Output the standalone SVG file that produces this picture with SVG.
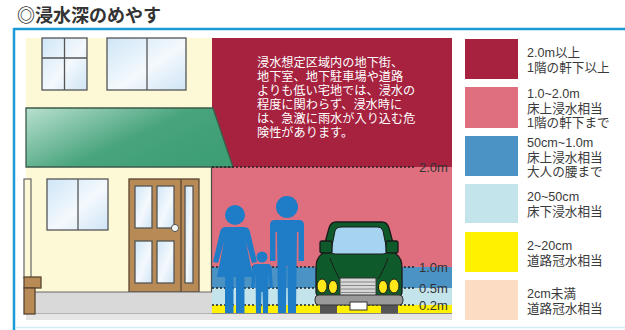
<svg xmlns="http://www.w3.org/2000/svg" width="625" height="330" viewBox="0 0 625 330">
  <defs>
    <style>
      .title { font-family: "Noto Sans CJK JP", "Noto Sans", sans-serif; font-weight: bold; font-size: 18px; fill: #333; }
      .note { font-family: "Liberation Sans", "Noto Sans CJK JP", sans-serif; font-size: 12.2px; fill: #fff; }
      .legend { font-family: "Liberation Sans", "Noto Sans CJK JP", sans-serif; font-size: 12.6px; fill: #3a3a3a; }
      .depth { font-family: "Liberation Sans", Arial, sans-serif; font-size: 13px; fill: #333; }
      .dots { stroke: #222; stroke-width: 1.6; stroke-dasharray: 2 2; fill: none; }
      .pane { fill: url(#glass); stroke: #555; stroke-width: 1.3; }
      .frame { stroke: #555; stroke-width: 1.3; fill: none; }
      .wood { fill: #b88a55; stroke: #5a4630; stroke-width: 1.3; }
      .person { fill: #1f7cc7; }
      .car { fill: #0f5a2b; stroke: #1a1a1a; stroke-width: 1.3; }
      .lamp { fill: #ffe81a; stroke: #1a1a1a; stroke-width: 1; }
    </style>
    <linearGradient id="glass" x1="0" y1="0" x2="1" y2="1">
      <stop offset="0" stop-color="#cfe6f7"/>
      <stop offset="0.55" stop-color="#f4f9fd"/>
      <stop offset="1" stop-color="#cfe4f5"/>
    </linearGradient>
    <linearGradient id="awning" x1="0" y1="0" x2="1" y2="0.6">
      <stop offset="0" stop-color="#b9e0d0"/>
      <stop offset="0.6" stop-color="#48a47c"/>
      <stop offset="1" stop-color="#3e9e74"/>
    </linearGradient>
  </defs>

  <rect width="625" height="330" fill="#fff"/>

  <!-- heading -->
  <text class="title" x="17" y="22">◎浸水深のめやす</text>

  <!-- outer frame -->
  <line x1="14" y1="29" x2="625" y2="29" stroke="#1b9ad8" stroke-width="2.5"/>
  <line x1="14" y1="28" x2="14" y2="330" stroke="#1b9ad8" stroke-width="2.5"/>
  <line x1="15" y1="327.5" x2="625" y2="327.5" stroke="#d6eff7" stroke-width="1.5"/>

  <!-- water depth bands -->
  <g id="depth-bands">
    <rect x="212" y="38" width="240" height="129" fill="#a6223f"/>
    <rect x="212" y="167" width="240" height="100" fill="#df6f7f"/>
    <rect x="212" y="267" width="240" height="21" fill="#4b92c5"/>
    <rect x="212" y="288" width="240" height="17" fill="#c4e4ec"/>
    <rect x="212" y="305" width="240" height="8.5" fill="#fff100"/>
    <rect x="26" y="313.5" width="426" height="6.5" fill="#e6e6e6"/>
    <line x1="26" y1="313.5" x2="452" y2="313.5" stroke="#8a8a8a" stroke-width="1"/>
  </g>

  <!-- house -->
  <g id="house">
    <rect x="26" y="38" width="186" height="254" fill="#fdf8d6"/>
    <!-- upper windows -->
    <rect class="pane" x="42" y="38" width="45" height="52"/>
    <line class="frame" x1="64.5" y1="38" x2="64.5" y2="90"/>
    <line class="frame" x1="42" y1="58" x2="87" y2="58"/>
    <rect class="pane" x="107" y="38" width="79" height="52"/>
    <line class="frame" x1="147" y1="38" x2="147" y2="90"/>
    <!-- awning -->
    <polygon points="26,108 213,108 233,167 26,167" fill="url(#awning)" stroke="#3d5a4a" stroke-width="1.3"/>
    <!-- wall edge -->
    <line x1="211.5" y1="167" x2="211.5" y2="292" stroke="#4a4a4a" stroke-width="1.2"/>
    <!-- lower window -->
    <rect class="pane" x="47" y="179" width="61" height="51"/>
    <line class="frame" x1="78" y1="179" x2="78" y2="230"/>
    <!-- window edge at the left -->
    <rect x="24" y="179" width="7" height="99" fill="#fdf8d6" stroke="#666" stroke-width="1.2"/>
    <!-- door -->
    <rect class="wood" x="129" y="179" width="70" height="113"/>
    <line x1="181" y1="179" x2="181" y2="292" stroke="#5a4630" stroke-width="1.3"/>
    <rect class="pane" x="135" y="186" width="17" height="42" stroke="#5a4630"/>
    <rect class="pane" x="157" y="186" width="17" height="42" stroke="#5a4630"/>
    <rect class="pane" x="135" y="241" width="17" height="42" stroke="#5a4630"/>
    <rect class="pane" x="157" y="241" width="17" height="42" stroke="#5a4630"/>
    <rect class="pane" x="185" y="186" width="8" height="97" stroke="#5a4630"/>
    <circle cx="175" cy="228" r="3.6" fill="#f4f4f4" stroke="#555" stroke-width="1"/>
    <!-- step / ground -->
    <rect x="26" y="292" width="186" height="21.5" fill="#d9d9d9"/>
    <line x1="26" y1="292" x2="212" y2="292" stroke="#666" stroke-width="1.2"/>
    <!-- bench -->
    <rect class="wood" x="24" y="277" width="17" height="11"/>
    <rect class="wood" x="24" y="288" width="11" height="26"/>
  </g>

  <!-- level lines -->
  <g id="levels">
    <line class="dots" x1="212" y1="167" x2="416" y2="167"/>
    <line class="dots" x1="212" y1="267" x2="416" y2="267"/>
    <line class="dots" x1="212" y1="288" x2="416" y2="288"/>
    <line class="dots" x1="212" y1="305" x2="416" y2="305"/>
    <text class="depth" x="419" y="172">2.0m</text>
    <text class="depth" x="419" y="272">1.0m</text>
    <text class="depth" x="419" y="293">0.5m</text>
    <text class="depth" x="419" y="310">0.2m</text>
  </g>

  <!-- caution note -->
  <g id="note">
    <text class="note">
      <tspan x="257" y="67">浸水想定区域内の地下街、</tspan>
      <tspan x="257" dy="14">地下室、地下駐車場や道路</tspan>
      <tspan x="257" dy="14">よりも低い宅地では、浸水の</tspan>
      <tspan x="257" dy="14">程度に関わらず、浸水時に</tspan>
      <tspan x="257" dy="14">は、急激に雨水が入り込む危</tspan>
      <tspan x="257" dy="14">険性があります。</tspan>
    </text>
  </g>

  <!-- people -->
  <g id="woman" class="person">
    <circle cx="235" cy="215" r="10"/>
    <path d="M226,227 L244,227 Q249,227 250,232 L257,262 L252,263 L246,242 L253,277 L217,277 L224,242 L218,263 L213,262 L220,232 Q221,227 226,227 Z"/>
    <rect x="225" y="276" width="8.5" height="37"/>
    <rect x="236" y="276" width="8.5" height="37"/>
  </g>
  <g id="child" class="person">
    <circle cx="262" cy="257" r="5.5"/>
    <path d="M256,264 L268,264 Q271,264 271.5,267 L273,288 L269.5,288 L268.5,272 L268,313 L263,313 L262.5,292 L261.5,292 L261,313 L256,313 L255.5,272 L254.5,288 L251,288 L252.5,267 Q253,264 256,264 Z"/>
  </g>
  <g id="man" class="person">
    <circle cx="287" cy="207" r="11"/>
    <path d="M275,220 L299,220 Q304,220 304,225 L304,261 L298.5,261 L298.5,232 L297,232 L296,313 L288,313 L287.5,266 L286.5,266 L286,313 L278,313 L277,232 L275.5,232 L275.5,261 L270,261 L270,225 Q270,220 275,220 Z"/>
  </g>

  <!-- car -->
  <g id="car">
    <rect x="320" y="303" width="17" height="10.5" fill="#555"/>
    <rect x="381" y="303" width="17" height="10.5" fill="#555"/>
    <path class="car" d="M340,222 L382,222 Q387,222 389,228 L396,254 Q402,258 402,268 L402,292 Q402,297 396,297 L322,297 Q316,297 316,292 L316,268 Q316,258 322,254 L329,228 Q331,222 336,222 Z"/>
    <path d="M342,227 L378,227 Q382,227 383,231 L387,251 Q387,254 383,254 L335,254 Q331,254 331,251 L335,231 Q336,227 342,227 Z" fill="#a5d3f0" stroke="#1a1a1a" stroke-width="1"/>
    <rect class="car" x="320" y="241" width="12" height="12" rx="2"/>
    <rect class="car" x="386" y="241" width="12" height="12" rx="2"/>
    <path d="M330,258 Q336,274 340,279 M388,258 Q382,274 378,279" stroke="#1a1a1a" stroke-width="1" fill="none"/>
    <rect x="340" y="278" width="36" height="20" fill="#d8d8d8" stroke="#333" stroke-width="1"/>
    <path d="M341,282 H375 M341,285.5 H375 M341,289 H375 M341,292.5 H375" stroke="#888" stroke-width="1"/>
    <rect x="315" y="295" width="88" height="10" rx="4" fill="#9a9a9a" stroke="#333" stroke-width="1"/>
    <rect x="350" y="302" width="17" height="8" fill="#fff" stroke="#333" stroke-width="1"/>
    <ellipse class="lamp" cx="322" cy="286" rx="5" ry="7"/>
    <ellipse class="lamp" cx="333" cy="287" rx="4.5" ry="6.5"/>
    <ellipse class="lamp" cx="383" cy="287" rx="4.5" ry="6.5"/>
    <ellipse class="lamp" cx="394" cy="286" rx="5" ry="7"/>
  </g>

  <!-- legend -->
  <g id="legend">
    <g id="legend-1">
      <rect x="465" y="39" width="53" height="40" fill="#a6223f"/>
      <text class="legend"><tspan x="527" y="57">2.0m以上</tspan><tspan x="527" dy="15">1階の軒下以上</tspan></text>
    </g>
    <g id="legend-2">
      <rect x="465" y="87" width="53" height="41" fill="#df6f7f"/>
      <text class="legend"><tspan x="527" y="98">1.0~2.0m</tspan><tspan x="527" dy="14.6">床上浸水相当</tspan><tspan x="527" dy="14.6">1階の軒下まで</tspan></text>
    </g>
    <g id="legend-3">
      <rect x="465" y="136" width="53" height="40" fill="#4b92c5"/>
      <text class="legend"><tspan x="527" y="147">50cm~1.0m</tspan><tspan x="527" dy="14.6">床上浸水相当</tspan><tspan x="527" dy="14.6">大人の腰まで</tspan></text>
    </g>
    <g id="legend-4">
      <rect x="465" y="184" width="53" height="39" fill="#c4e4ec"/>
      <text class="legend"><tspan x="527" y="201">20~50cm</tspan><tspan x="527" dy="15">床下浸水相当</tspan></text>
    </g>
    <g id="legend-5">
      <rect x="465" y="232" width="53" height="40" fill="#fff100"/>
      <text class="legend"><tspan x="527" y="250">2~20cm</tspan><tspan x="527" dy="15">道路冠水相当</tspan></text>
    </g>
    <g id="legend-6">
      <rect x="465" y="280" width="53" height="40" fill="#fcdcc2"/>
      <text class="legend"><tspan x="527" y="298">2cm未満</tspan><tspan x="527" dy="15">道路冠水相当</tspan></text>
    </g>
  </g>
</svg>
